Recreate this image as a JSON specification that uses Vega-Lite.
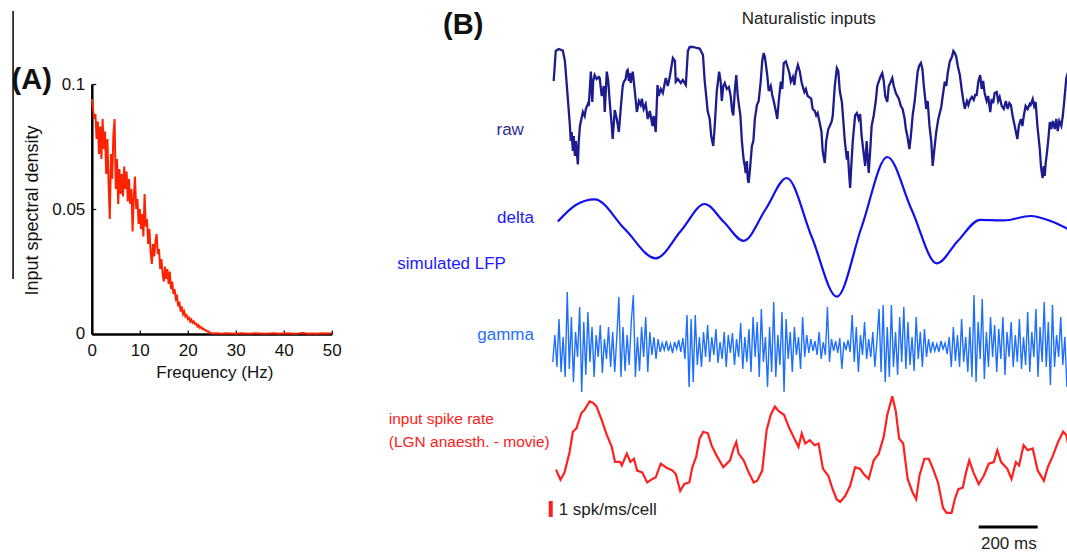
{
"$schema": "https://vega.github.io/schema/vega-lite/v6.json",
"padding": {"left": 10.8, "top": 9, "right": 0, "bottom": 0},
"background": "white",
"spacing": 221,
"bounds": "flush",
"config": {"view": {"stroke": null}, "font": "Liberation Sans", "text": {"font": "Liberation Sans"}, "axis": {"labelFont": "Liberation Sans", "titleFont": "Liberation Sans"}},
"datasets": {
"spectrum": [
{"f":0,"v":0.094},{"f":0.25,"v":0.09},{"f":0.5,"v":0.086},{"f":0.75,"v":0.088},{"f":1,"v":0.078},{"f":1.25,"v":0.085},{"f":1.5,"v":0.072},{"f":1.75,"v":0.083},{"f":2,"v":0.07},{"f":2.25,"v":0.086},{"f":2.5,"v":0.074},{"f":2.75,"v":0.081},{"f":3,"v":0.064},{"f":3.25,"v":0.078},{"f":3.5,"v":0.06},{"f":3.75,"v":0.046},{"f":4,"v":0.072},{"f":4.25,"v":0.062},{"f":4.5,"v":0.08},{"f":4.75,"v":0.086},{"f":5,"v":0.058},{"f":5.25,"v":0.07},{"f":5.5,"v":0.052},{"f":5.75,"v":0.066},{"f":6,"v":0.056},{"f":6.25,"v":0.064},{"f":6.5,"v":0.055},{"f":6.75,"v":0.067},{"f":7,"v":0.058},{"f":7.25,"v":0.065},{"f":7.5,"v":0.053},{"f":7.75,"v":0.062},{"f":8,"v":0.052},{"f":8.25,"v":0.058},{"f":8.5,"v":0.041},{"f":8.75,"v":0.055},{"f":9,"v":0.063},{"f":9.25,"v":0.05},{"f":9.5,"v":0.054},{"f":9.75,"v":0.044},{"f":10,"v":0.05},{"f":10.25,"v":0.042},{"f":10.5,"v":0.048},{"f":10.75,"v":0.039},{"f":11,"v":0.056},{"f":11.25,"v":0.043},{"f":11.5,"v":0.046},{"f":11.75,"v":0.036},{"f":12,"v":0.042},{"f":12.25,"v":0.033},{"f":12.5,"v":0.028},{"f":12.75,"v":0.036},{"f":13,"v":0.031},{"f":13.25,"v":0.037},{"f":13.5,"v":0.04},{"f":13.75,"v":0.032},{"f":14,"v":0.034},{"f":14.25,"v":0.026},{"f":14.5,"v":0.03},{"f":14.75,"v":0.024},{"f":15,"v":0.021},{"f":15.25,"v":0.027},{"f":15.5,"v":0.022},{"f":15.75,"v":0.026},{"f":16,"v":0.02},{"f":16.25,"v":0.025},{"f":16.5,"v":0.018},{"f":16.75,"v":0.021},{"f":17,"v":0.016},{"f":17.25,"v":0.018},{"f":17.5,"v":0.014},{"f":17.75,"v":0.015},{"f":18,"v":0.011},{"f":18.25,"v":0.013},{"f":18.5,"v":0.009},{"f":18.75,"v":0.011},{"f":19,"v":0.008},{"f":19.25,"v":0.009},{"f":19.5,"v":0.007},{"f":19.75,"v":0.0075},{"f":20,"v":0.006},{"f":20.25,"v":0.0065},{"f":20.5,"v":0.005},{"f":20.75,"v":0.0058},{"f":21,"v":0.0045},{"f":21.25,"v":0.005},{"f":21.5,"v":0.004},{"f":21.75,"v":0.0042},{"f":22,"v":0.003},{"f":22.25,"v":0.0035},{"f":22.5,"v":0.0025},{"f":22.75,"v":0.0028},{"f":23,"v":0.002},{"f":23.25,"v":0.0022},{"f":23.5,"v":0.0015},{"f":23.75,"v":0.0016},{"f":24,"v":0.001},{"f":24.25,"v":0.0011},{"f":24.5,"v":0.0006},{"f":24.75,"v":0.0004},{"f":25,"v":0.0002},
{"f":26,"v":0.0003},{"f":27,"v":0.0001},{"f":28,"v":0.0003},{"f":29,"v":0.0002},{"f":30,"v":0.0001},{"f":31,"v":0.0003},{"f":32,"v":0.0002},{"f":33,"v":0.0001},{"f":34,"v":0.0003},{"f":35,"v":0.0002},{"f":36,"v":0.0001},{"f":37,"v":0.0002},{"f":38,"v":0.0003},{"f":39,"v":0.0001},{"f":40,"v":0.0002},{"f":41,"v":0.0003},{"f":42,"v":0.0001},{"f":43,"v":0.0002},{"f":44,"v":0.0004},{"f":45,"v":0.0001},{"f":46,"v":0.0002},{"f":47,"v":0.0001},{"f":48,"v":0.0003},{"f":49,"v":0.0002},{"f":50,"v":0.0003}
],
"raw": [
{"t":3,"r":3.5},{"t":10,"r":6.5},{"t":20,"r":6.7},{"t":34,"r":6.54},{"t":41,"r":5.5},{"t":51,"r":1.74},{"t":58,"r":-1.0},{"t":61,"r":-2.5},{"t":64,"r":-1.6},{"t":68,"r":-3.5},{"t":71,"r":-2.0},{"t":75,"r":-4.0},{"t":78,"r":-2.5},{"t":85,"r":-4.85},{"t":88,"r":-2.5},{"t":92,"r":-1.0},{"t":97,"r":-0.3},{"t":102,"r":0.4},{"t":108,"r":0},{"t":112,"r":0.7},{"t":119,"r":1.2},{"t":122,"r":1.0},{"t":129,"r":4.44},{"t":134,"r":1.4},{"t":137,"r":3.5},{"t":142,"r":4.1},{"t":149,"r":3.7},{"t":156,"r":3.9},{"t":159,"r":3.8},{"t":166,"r":2.0},{"t":173,"r":3.0},{"t":176,"r":0.4},{"t":183,"r":4.44},{"t":188,"r":3.5},{"t":193,"r":1.4},{"t":200,"r":-1.0},{"t":203,"r":-2.3},{"t":207,"r":-0.7},{"t":210,"r":0.6},{"t":217,"r":-0.3},{"t":224,"r":-1.6},{"t":231,"r":1.0},{"t":237,"r":3.0},{"t":241,"r":3.43},{"t":247,"r":3.7},{"t":251,"r":4.5},{"t":254,"r":4.6},{"t":258,"r":3.5},{"t":261,"r":4.3},{"t":264,"r":3.3},{"t":271,"r":4.44},{"t":278,"r":2.5},{"t":285,"r":0.4},{"t":292,"r":1.5},{"t":298,"r":1.1},{"t":302,"r":1.74},{"t":308,"r":0.7},{"t":315,"r":1.2},{"t":322,"r":-0.3},{"t":329,"r":0.5},{"t":338,"r":-1.0},{"t":342,"r":0},{"t":349,"r":-1.6},{"t":355,"r":3.1},{"t":359,"r":2.0},{"t":366,"r":2.7},{"t":373,"r":2.3},{"t":383,"r":3.8},{"t":390,"r":3.0},{"t":397,"r":4.0},{"t":407,"r":5.8},{"t":414,"r":5.5},{"t":417,"r":3.43},{"t":424,"r":3.7},{"t":434,"r":3.3},{"t":441,"r":3.6},{"t":451,"r":3.1},{"t":458,"r":6.5},{"t":464,"r":6.9},{"t":475,"r":6.9},{"t":488,"r":6.8},{"t":498,"r":6.74},{"t":509,"r":6.13},{"t":515,"r":3.5},{"t":521,"r":1.74},{"t":525,"r":0.5},{"t":532,"r":-0.3},{"t":537,"r":-2.0},{"t":544,"r":-3.0},{"t":549,"r":-1.0},{"t":556,"r":2.5},{"t":564,"r":4.44},{"t":569,"r":3.5},{"t":573,"r":1.5},{"t":578,"r":3.0},{"t":583,"r":3.3},{"t":590,"r":2.7},{"t":597,"r":2.9},{"t":603,"r":2.0},{"t":608,"r":0.5},{"t":612,"r":0.05},{"t":617,"r":2.5},{"t":622,"r":4.1},{"t":627,"r":2.0},{"t":636,"r":0.05},{"t":641,"r":-2.5},{"t":647,"r":-4.35},{"t":651,"r":-5.0},{"t":654,"r":-5.7},{"t":658,"r":-4.5},{"t":661,"r":-6.3},{"t":664,"r":-6.7},{"t":668,"r":-5.5},{"t":675,"r":-3.0},{"t":680,"r":-2.5},{"t":685,"r":-0.3},{"t":692,"r":1.1},{"t":698,"r":1.5},{"t":705,"r":3.5},{"t":710,"r":5.5},{"t":715,"r":6.3},{"t":719,"r":5.9},{"t":727,"r":4.1},{"t":732,"r":2.5},{"t":739,"r":3.0},{"t":744,"r":2.1},{"t":749,"r":1.5},{"t":756,"r":0.5},{"t":761,"r":-0.3},{"t":766,"r":1.5},{"t":773,"r":3.43},{"t":778,"r":2.7},{"t":783,"r":5.3},{"t":790,"r":5.46},{"t":797,"r":4.8},{"t":802,"r":4.3},{"t":807,"r":3.43},{"t":814,"r":3.9},{"t":819,"r":3.1},{"t":824,"r":4.3},{"t":831,"r":5.1},{"t":837,"r":4.5},{"t":844,"r":3.3},{"t":853,"r":2.4},{"t":858,"r":2.7},{"t":864,"r":2.0},{"t":876,"r":1.74},{"t":881,"r":0.7},{"t":888,"r":0.5},{"t":893,"r":0.05},{"t":898,"r":0.3},{"t":905,"r":-0.7},{"t":911,"r":-1.6},{"t":915,"r":-3.5},{"t":922,"r":-4.7},{"t":927,"r":-2.5},{"t":934,"r":-1.3},{"t":939,"r":-1.0},{"t":945,"r":-0.6},{"t":949,"r":0},{"t":956,"r":3.0},{"t":963,"r":4.8},{"t":968,"r":4.5},{"t":973,"r":2.5},{"t":980,"r":1.4},{"t":985,"r":-0.5},{"t":990,"r":-2.5},{"t":997,"r":-4.35},{"t":1000,"r":-3.5},{"t":1004,"r":-5.5},{"t":1008,"r":-7.2},{"t":1012,"r":-5.0},{"t":1017,"r":-2.5},{"t":1025,"r":0.05},{"t":1031,"r":0.3},{"t":1037,"r":-0.3},{"t":1042,"r":0.2},{"t":1047,"r":-2.0},{"t":1053,"r":-3.5},{"t":1059,"r":-5.0},{"t":1064,"r":-2.5},{"t":1071,"r":-5.7},{"t":1076,"r":-3.5},{"t":1081,"r":-1.0},{"t":1088,"r":0.05},{"t":1095,"r":1.5},{"t":1100,"r":3.0},{"t":1105,"r":3.43},{"t":1112,"r":4.0},{"t":1117,"r":4.3},{"t":1122,"r":3.5},{"t":1127,"r":2.0},{"t":1134,"r":1.4},{"t":1139,"r":3.0},{"t":1144,"r":3.3},{"t":1151,"r":3.8},{"t":1156,"r":3.0},{"t":1163,"r":2.3},{"t":1173,"r":1.74},{"t":1180,"r":1.0},{"t":1186,"r":0.7},{"t":1193,"r":-0.3},{"t":1197,"r":-1.3},{"t":1202,"r":-2.0},{"t":1209,"r":-3.3},{"t":1214,"r":-2.0},{"t":1220,"r":0.05},{"t":1227,"r":1.5},{"t":1232,"r":3.0},{"t":1237,"r":4.44},{"t":1242,"r":5.0},{"t":1248,"r":5.3},{"t":1253,"r":4.7},{"t":1258,"r":3.0},{"t":1266,"r":0.72},{"t":1271,"r":1.5},{"t":1277,"r":-0.97},{"t":1283,"r":-2.5},{"t":1288,"r":-5.0},{"t":1293,"r":-3.5},{"t":1300,"r":-1.6},{"t":1307,"r":-0.3},{"t":1312,"r":0.3},{"t":1317,"r":0.9},{"t":1322,"r":2.0},{"t":1329,"r":3.43},{"t":1334,"r":3.0},{"t":1339,"r":4.3},{"t":1346,"r":5.46},{"t":1353,"r":5.9},{"t":1358,"r":6.5},{"t":1363,"r":6.3},{"t":1368,"r":5.9},{"t":1373,"r":5.0},{"t":1380,"r":4.1},{"t":1387,"r":2.5},{"t":1392,"r":1.5},{"t":1397,"r":0.72},{"t":1404,"r":1.5},{"t":1409,"r":1.1},{"t":1414,"r":1.6},{"t":1421,"r":1.9},{"t":1427,"r":1.6},{"t":1432,"r":2.1},{"t":1437,"r":2.1},{"t":1443,"r":3.5},{"t":1449,"r":4.1},{"t":1454,"r":2.7},{"t":1459,"r":3.5},{"t":1464,"r":2.3},{"t":1471,"r":1.5},{"t":1476,"r":2.0},{"t":1483,"r":0.4},{"t":1488,"r":1.7},{"t":1493,"r":1.3},{"t":1498,"r":2.3},{"t":1505,"r":2.4},{"t":1510,"r":1.5},{"t":1515,"r":1.9},{"t":1522,"r":1.0},{"t":1529,"r":0.72},{"t":1536,"r":1.5},{"t":1542,"r":0.7},{"t":1548,"r":1.3},{"t":1553,"r":1.1},{"t":1559,"r":0},{"t":1566,"r":-1.0},{"t":1575,"r":-2.3},{"t":1580,"r":-1.0},{"t":1587,"r":-0.3},{"t":1592,"r":-1.0},{"t":1597,"r":0.05},{"t":1603,"r":1.0},{"t":1610,"r":0.7},{"t":1617,"r":1.2},{"t":1620,"r":1.1},{"t":1627,"r":1.7},{"t":1632,"r":1.0},{"t":1637,"r":1.4},{"t":1643,"r":-1.0},{"t":1651,"r":-3.3},{"t":1655,"r":-5.0},{"t":1658,"r":-5.7},{"t":1661,"r":-6.2},{"t":1665,"r":-5.0},{"t":1668,"r":-6.0},{"t":1671,"r":-4.7},{"t":1676,"r":-3.5},{"t":1681,"r":-2.0},{"t":1685,"r":-0.6},{"t":1690,"r":-1.3},{"t":1695,"r":-0.5},{"t":1702,"r":-1.3},{"t":1707,"r":-0.3},{"t":1712,"r":-1.5},{"t":1717,"r":-0.5},{"t":1724,"r":-1.0},{"t":1729,"r":0},{"t":1734,"r":1.5},{"t":1741,"r":3.8},{"t":1746,"r":4.3},{"t":1753,"r":3.43}
],
"delta": [
{"t":17,"d":-0.03},{"t":78,"d":0.8},{"t":142,"d":1.08},{"t":244,"d":-0.4},{"t":349,"d":-1.87},{"t":434,"d":-0.5},{"t":515,"d":0.85},{"t":580,"d":-0.05},{"t":647,"d":-0.99},{"t":722,"d":0.6},{"t":793,"d":2.15},{"t":878,"d":-0.8},{"t":963,"d":-3.78},{"t":1047,"d":-0.3},{"t":1134,"d":3.2},{"t":1217,"d":0.55},{"t":1302,"d":-2.12},{"t":1373,"d":-1.0},{"t":1449,"d":0.06},{"t":1529,"d":0.03},{"t":1620,"d":0.25},{"t":1688,"d":0.0},{"t":1746,"d":-0.4}
],
"gamma": [
{"t":0,"g":-1.5},{"t":7,"g":1.2},{"t":14,"g":-2.0},{"t":21,"g":2.8},{"t":28,"g":-2.5},{"t":35,"g":1.0},{"t":42,"g":-3.0},{"t":49,"g":5.5},{"t":56,"g":-2.2},{"t":63,"g":3.0},{"t":70,"g":-3.5},{"t":77,"g":1.5},{"t":84,"g":-1.0},{"t":91,"g":4.0},{"t":98,"g":-4.5},{"t":105,"g":2.5},{"t":112,"g":-2.8},{"t":119,"g":3.5},{"t":126,"g":-1.5},{"t":133,"g":2.0},{"t":140,"g":-3.0},{"t":147,"g":1.2},{"t":154,"g":-1.0},{"t":161,"g":2.2},{"t":168,"g":-2.6},{"t":175,"g":0.8},{"t":182,"g":-1.2},{"t":189,"g":2.0},{"t":196,"g":-2.0},{"t":203,"g":1.5},{"t":210,"g":-2.5},{"t":217,"g":1.0},{"t":224,"g":5.0},{"t":231,"g":-3.0},{"t":238,"g":2.0},{"t":245,"g":-2.4},{"t":252,"g":1.2},{"t":259,"g":-1.8},{"t":266,"g":2.5},{"t":273,"g":5.2},{"t":280,"g":-3.0},{"t":287,"g":1.0},{"t":294,"g":-2.4},{"t":301,"g":2.0},{"t":308,"g":-1.0},{"t":315,"g":3.0},{"t":322,"g":-2.5},{"t":329,"g":1.5},{"t":336,"g":-0.8},{"t":343,"g":1.0},{"t":350,"g":-1.2},{"t":357,"g":0.8},{"t":364,"g":-0.5},{"t":371,"g":0.4},{"t":378,"g":-0.3},{"t":385,"g":0.6},{"t":392,"g":-0.4},{"t":399,"g":0.3},{"t":406,"g":-0.6},{"t":413,"g":0.5},{"t":420,"g":-0.2},{"t":427,"g":0.7},{"t":434,"g":-0.5},{"t":441,"g":0.9},{"t":448,"g":-1.2},{"t":455,"g":3.2},{"t":462,"g":-4.0},{"t":469,"g":2.8},{"t":476,"g":-3.5},{"t":483,"g":3.2},{"t":490,"g":-1.8},{"t":497,"g":1.0},{"t":504,"g":-2.0},{"t":511,"g":1.5},{"t":518,"g":-1.0},{"t":525,"g":2.2},{"t":532,"g":-1.5},{"t":539,"g":1.0},{"t":546,"g":-0.8},{"t":553,"g":1.8},{"t":560,"g":-1.6},{"t":567,"g":0.5},{"t":574,"g":-1.2},{"t":581,"g":1.5},{"t":588,"g":-2.0},{"t":595,"g":1.2},{"t":602,"g":-0.6},{"t":609,"g":1.4},{"t":616,"g":-1.8},{"t":623,"g":0.8},{"t":630,"g":-1.0},{"t":637,"g":2.4},{"t":644,"g":-2.2},{"t":651,"g":1.0},{"t":658,"g":-1.5},{"t":665,"g":1.8},{"t":672,"g":-2.5},{"t":679,"g":3.0},{"t":686,"g":-1.0},{"t":693,"g":2.5},{"t":700,"g":-3.0},{"t":707,"g":3.8},{"t":714,"g":-1.5},{"t":721,"g":1.0},{"t":728,"g":-4.0},{"t":735,"g":2.0},{"t":742,"g":-2.5},{"t":749,"g":4.5},{"t":756,"g":-3.0},{"t":763,"g":1.2},{"t":770,"g":-1.8},{"t":777,"g":3.5},{"t":784,"g":-4.5},{"t":791,"g":2.8},{"t":798,"g":-1.2},{"t":805,"g":1.5},{"t":812,"g":-2.5},{"t":819,"g":2.0},{"t":826,"g":-0.8},{"t":833,"g":1.0},{"t":840,"g":-2.2},{"t":847,"g":3.0},{"t":854,"g":-1.0},{"t":861,"g":1.2},{"t":868,"g":-0.6},{"t":875,"g":0.8},{"t":882,"g":-0.4},{"t":889,"g":0.6},{"t":896,"g":-0.8},{"t":903,"g":1.5},{"t":910,"g":-1.2},{"t":917,"g":0.5},{"t":924,"g":-0.8},{"t":931,"g":4.0},{"t":938,"g":-1.5},{"t":945,"g":0.8},{"t":952,"g":-0.4},{"t":959,"g":0.6},{"t":966,"g":-0.6},{"t":973,"g":0.9},{"t":980,"g":-2.2},{"t":987,"g":0.5},{"t":994,"g":-0.3},{"t":1001,"g":0.7},{"t":1008,"g":-0.5},{"t":1015,"g":3.2},{"t":1022,"g":-1.5},{"t":1029,"g":2.0},{"t":1036,"g":-2.5},{"t":1043,"g":1.2},{"t":1050,"g":-0.8},{"t":1057,"g":2.5},{"t":1064,"g":-1.2},{"t":1071,"g":0.8},{"t":1078,"g":-1.0},{"t":1085,"g":1.5},{"t":1092,"g":-2.0},{"t":1099,"g":0.6},{"t":1106,"g":3.8},{"t":1113,"g":-2.5},{"t":1120,"g":4.2},{"t":1127,"g":-3.5},{"t":1134,"g":2.0},{"t":1141,"g":-3.0},{"t":1148,"g":4.2},{"t":1155,"g":-2.0},{"t":1162,"g":1.5},{"t":1169,"g":-2.8},{"t":1176,"g":3.0},{"t":1183,"g":-1.5},{"t":1190,"g":4.0},{"t":1197,"g":-2.2},{"t":1204,"g":2.5},{"t":1211,"g":-1.8},{"t":1218,"g":1.0},{"t":1225,"g":-2.4},{"t":1232,"g":3.0},{"t":1239,"g":-1.2},{"t":1246,"g":1.5},{"t":1253,"g":-2.0},{"t":1260,"g":1.8},{"t":1267,"g":-1.0},{"t":1274,"g":0.8},{"t":1281,"g":-0.6},{"t":1288,"g":0.5},{"t":1295,"g":-0.4},{"t":1302,"g":0.3},{"t":1309,"g":-0.5},{"t":1316,"g":0.6},{"t":1323,"g":-0.2},{"t":1330,"g":0.4},{"t":1337,"g":-0.7},{"t":1344,"g":1.0},{"t":1351,"g":-2.0},{"t":1358,"g":2.0},{"t":1365,"g":-1.4},{"t":1372,"g":1.2},{"t":1379,"g":-2.0},{"t":1386,"g":2.8},{"t":1393,"g":-1.5},{"t":1400,"g":1.0},{"t":1407,"g":-2.5},{"t":1414,"g":2.0},{"t":1421,"g":-3.0},{"t":1428,"g":5.2},{"t":1435,"g":-3.5},{"t":1442,"g":2.5},{"t":1449,"g":-1.2},{"t":1456,"g":4.8},{"t":1463,"g":-3.2},{"t":1470,"g":1.5},{"t":1477,"g":-2.0},{"t":1484,"g":3.0},{"t":1491,"g":-1.0},{"t":1498,"g":2.2},{"t":1505,"g":-2.5},{"t":1512,"g":1.8},{"t":1519,"g":-1.2},{"t":1526,"g":3.0},{"t":1533,"g":-2.8},{"t":1540,"g":1.5},{"t":1547,"g":-1.0},{"t":1554,"g":2.5},{"t":1561,"g":-2.0},{"t":1568,"g":1.2},{"t":1575,"g":-1.5},{"t":1582,"g":2.8},{"t":1589,"g":-2.2},{"t":1596,"g":1.0},{"t":1603,"g":-1.8},{"t":1610,"g":3.5},{"t":1617,"g":-2.5},{"t":1624,"g":1.5},{"t":1631,"g":-1.0},{"t":1638,"g":3.8},{"t":1645,"g":-3.0},{"t":1652,"g":2.0},{"t":1659,"g":-1.5},{"t":1666,"g":4.5},{"t":1673,"g":-2.0},{"t":1680,"g":2.5},{"t":1687,"g":-3.8},{"t":1694,"g":4.2},{"t":1701,"g":-2.0},{"t":1708,"g":1.2},{"t":1715,"g":-1.0},{"t":1722,"g":3.0},{"t":1729,"g":-1.8},{"t":1736,"g":1.0},{"t":1743,"g":-4.0},{"t":1750,"g":0.5}
],
"spike": [
{"t":11,"rate":3.21},{"t":26,"rate":2.58},{"t":40,"rate":3.04},{"t":57,"rate":4.31},{"t":68,"rate":5.58},{"t":80,"rate":5.79},{"t":97,"rate":6.75},{"t":108,"rate":6.96},{"t":125,"rate":7.48},{"t":137,"rate":7.38},{"t":148,"rate":7.16},{"t":166,"rate":6.31},{"t":183,"rate":5.38},{"t":200,"rate":4.63},{"t":211,"rate":3.69},{"t":228,"rate":3.69},{"t":234,"rate":3.47},{"t":251,"rate":4.21},{"t":263,"rate":3.69},{"t":275,"rate":3.89},{"t":286,"rate":3.15},{"t":303,"rate":3.04},{"t":320,"rate":2.41},{"t":338,"rate":2.63},{"t":349,"rate":2.73},{"t":366,"rate":3.58},{"t":383,"rate":3.36},{"t":406,"rate":3.15},{"t":417,"rate":2.94},{"t":432,"rate":1.88},{"t":446,"rate":2.31},{"t":463,"rate":2.41},{"t":473,"rate":3.36},{"t":486,"rate":4.0},{"t":498,"rate":5.16},{"t":510,"rate":5.58},{"t":526,"rate":5.48},{"t":538,"rate":4.74},{"t":555,"rate":4.1},{"t":578,"rate":3.36},{"t":601,"rate":3.79},{"t":613,"rate":4.53},{"t":622,"rate":4.94},{"t":630,"rate":4.21},{"t":647,"rate":3.79},{"t":664,"rate":3.04},{"t":681,"rate":2.41},{"t":693,"rate":2.52},{"t":710,"rate":3.15},{"t":725,"rate":5.69},{"t":739,"rate":6.64},{"t":753,"rate":7.16},{"t":767,"rate":6.85},{"t":784,"rate":6.64},{"t":802,"rate":5.79},{"t":819,"rate":5.16},{"t":833,"rate":4.63},{"t":844,"rate":5.48},{"t":856,"rate":4.84},{"t":871,"rate":5.05},{"t":888,"rate":4.74},{"t":901,"rate":4.84},{"t":916,"rate":3.26},{"t":934,"rate":2.83},{"t":947,"rate":2.09},{"t":962,"rate":1.36},{"t":974,"rate":1.19},{"t":991,"rate":1.56},{"t":1008,"rate":2.2},{"t":1025,"rate":3.36},{"t":1042,"rate":3.26},{"t":1054,"rate":2.94},{"t":1071,"rate":2.63},{"t":1088,"rate":3.79},{"t":1105,"rate":4.21},{"t":1122,"rate":5.26},{"t":1134,"rate":6.64},{"t":1151,"rate":7.8},{"t":1163,"rate":6.85},{"t":1174,"rate":5.16},{"t":1188,"rate":4.84},{"t":1203,"rate":2.63},{"t":1220,"rate":1.78},{"t":1232,"rate":1.36},{"t":1243,"rate":2.83},{"t":1260,"rate":3.89},{"t":1275,"rate":3.89},{"t":1289,"rate":3.26},{"t":1306,"rate":2.41},{"t":1323,"rate":0.83},{"t":1335,"rate":0.51},{"t":1352,"rate":0.51},{"t":1363,"rate":1.36},{"t":1375,"rate":1.99},{"t":1390,"rate":2.09},{"t":1401,"rate":3.04},{"t":1412,"rate":3.79},{"t":1426,"rate":3.04},{"t":1444,"rate":2.31},{"t":1461,"rate":2.83},{"t":1478,"rate":3.58},{"t":1495,"rate":3.68},{"t":1507,"rate":4.42},{"t":1520,"rate":3.68},{"t":1541,"rate":3.26},{"t":1555,"rate":2.63},{"t":1570,"rate":3.68},{"t":1581,"rate":3.47},{"t":1596,"rate":4.74},{"t":1610,"rate":4.42},{"t":1627,"rate":4.53},{"t":1644,"rate":3.15},{"t":1665,"rate":2.52},{"t":1678,"rate":3.36},{"t":1696,"rate":4.1},{"t":1713,"rate":4.94},{"t":1730,"rate":5.58},{"t":1741,"rate":5.38},{"t":1756,"rate":3.89}
]
},
"hconcat": [
{
"width": 240, "height": 250,
"layer": [
{"data": {"name": "spectrum"}, "mark": {"type": "line", "color": "#ff2200", "strokeWidth": 2, "clip": false},
 "encoding": {
  "x": {"field": "f", "type": "quantitative", "scale": {"domain": [0, 50], "nice": false, "zero": false},
        "axis": {"values": [0,10,20,30,40,50], "title": "Frequency (Hz)", "grid": false, "domainColor": "#000", "domainWidth": 2.5, "tickColor": "#000", "tickSize": -4, "tickWidth": 1.2, "labelFontSize": 17, "labelColor": "#111", "labelPadding": 13, "labelFlush": false, "labelOverlap": false, "titleFontSize": 17, "titleFontWeight": "normal", "titleColor": "#111", "titleX": 122.5, "titleY": 43.5, "titleBaseline": "alphabetic"}},
  "y": {"field": "v", "type": "quantitative", "scale": {"domain": [0, 0.1], "nice": false, "zero": false},
        "axis": {"values": [0, 0.05, 0.1], "format": "~g", "title": "Input spectral density", "grid": false, "domainColor": "#000", "domainWidth": 2.5, "tickColor": "#000", "tickSize": -4, "tickWidth": 1.2, "labelFontSize": 17, "labelColor": "#111", "labelPadding": 11, "labelFlush": false, "labelOverlap": false, "titleFontSize": 18, "titleFontWeight": "normal", "titleColor": "#111", "titleX": -54.3, "titleY": 126, "titleAngle": -90, "titleBaseline": "alphabetic", "titleAlign": "center"}}
 }},
{"data": {"values": [{"f": -16.4, "v": 0.1292, "v2": 0.022}]}, "mark": {"type": "rule", "color": "#000", "strokeWidth": 1.5},
 "encoding": {"x": {"field": "f", "type": "quantitative"}, "y": {"field": "v", "type": "quantitative"}, "y2": {"field": "v2"}}},
{"data": {"values": [{"f": -16.71, "v": 0.0979, "label": "(A)"}]}, "mark": {"type": "text", "align": "left", "baseline": "alphabetic", "fontSize": 29, "fontWeight": "bold", "color": "#111"},
 "encoding": {"x": {"field": "f", "type": "quantitative"}, "y": {"field": "v", "type": "quantitative"}, "text": {"field": "label"}}}
]
},
{
"width": 515, "height": 470,
"layer": [
{"layer": [
 {"data": {"name": "raw"}, "mark": {"type": "line", "color": "#1c1c8f", "strokeWidth": 2.3, "clip": false},
  "encoding": {"x": {"field": "t", "type": "quantitative", "scale": {"domain": [0, 1746], "nice": false, "zero": false}, "axis": null},
               "y": {"field": "r", "type": "quantitative", "scale": {"domain": [-43.8, 3.2], "nice": false, "zero": false}, "axis": null}}},
 {"data": {"values": [{"t": -98, "r": -1.9, "label": "raw"}]}, "mark": {"type": "text", "align": "right", "baseline": "alphabetic", "fontSize": 17, "color": "#2e2e8f"},
  "encoding": {"x": {"field": "t", "type": "quantitative", "scale": {"domain": [0, 1746], "nice": false, "zero": false}, "axis": null},
               "y": {"field": "r", "type": "quantitative", "scale": {"domain": [-43.8, 3.2], "nice": false, "zero": false}, "axis": null}, "text": {"field": "label"}}},
 {"data": {"values": [{"t": 868, "r": 9.25, "label": "Naturalistic inputs"}]}, "mark": {"type": "text", "align": "center", "baseline": "alphabetic", "fontSize": 17, "color": "#222"},
  "encoding": {"x": {"field": "t", "type": "quantitative", "scale": {"domain": [0, 1746], "nice": false, "zero": false}, "axis": null},
               "y": {"field": "r", "type": "quantitative", "scale": {"domain": [-43.8, 3.2], "nice": false, "zero": false}, "axis": null}, "text": {"field": "label"}}},
 {"data": {"values": [{"t": -372, "r": 8.17, "label": "(B)"}]}, "mark": {"type": "text", "align": "left", "baseline": "alphabetic", "fontSize": 29, "fontWeight": "bold", "color": "#111"},
  "encoding": {"x": {"field": "t", "type": "quantitative", "scale": {"domain": [0, 1746], "nice": false, "zero": false}, "axis": null},
               "y": {"field": "r", "type": "quantitative", "scale": {"domain": [-43.8, 3.2], "nice": false, "zero": false}, "axis": null}, "text": {"field": "label"}}}
]},
{"layer": [
 {"data": {"name": "delta"}, "mark": {"type": "line", "color": "#1010f0", "strokeWidth": 2.2, "interpolate": "monotone", "clip": false},
  "encoding": {"x": {"field": "t", "type": "quantitative", "scale": {"domain": [0, 1746], "nice": false, "zero": false}, "axis": null},
               "y": {"field": "d", "type": "quantitative", "scale": {"domain": [-16.65, 6.85], "nice": false, "zero": false}, "axis": null}}},
 {"data": {"values": [{"t": -64, "d": -0.085, "label": "delta"}, {"t": -159, "d": -2.4, "label": "simulated LFP"}]}, "mark": {"type": "text", "align": "right", "baseline": "alphabetic", "fontSize": 17, "color": "#1a1aff"},
  "encoding": {"x": {"field": "t", "type": "quantitative", "scale": {"domain": [0, 1746], "nice": false, "zero": false}, "axis": null},
               "y": {"field": "d", "type": "quantitative", "scale": {"domain": [-16.65, 6.85], "nice": false, "zero": false}, "axis": null}, "text": {"field": "label"}}}
]},
{"layer": [
 {"data": {"name": "gamma"}, "mark": {"type": "line", "color": "#1f6fff", "strokeWidth": 1.4, "clip": false},
  "encoding": {"x": {"field": "t", "type": "quantitative", "scale": {"domain": [0, 1746], "nice": false, "zero": false}, "axis": null},
               "y": {"field": "g", "type": "quantitative", "scale": {"domain": [-20.7, 26.3], "nice": false, "zero": false}, "axis": null}}},
 {"data": {"values": [{"t": -64, "g": 0.67, "label": "gamma"}]}, "mark": {"type": "text", "align": "right", "baseline": "alphabetic", "fontSize": 17, "color": "#1f6fff"},
  "encoding": {"x": {"field": "t", "type": "quantitative", "scale": {"domain": [0, 1746], "nice": false, "zero": false}, "axis": null},
               "y": {"field": "g", "type": "quantitative", "scale": {"domain": [-20.7, 26.3], "nice": false, "zero": false}, "axis": null}, "text": {"field": "label"}}}
]},
{"layer": [
 {"data": {"name": "spike"}, "mark": {"type": "line", "color": "#ff2020", "strokeWidth": 2.2, "clip": false},
  "encoding": {"x": {"field": "t", "type": "quantitative", "scale": {"domain": [0, 1746], "nice": false, "zero": false}, "axis": null},
               "y": {"field": "rate", "type": "quantitative", "scale": {"domain": [-2.0625, 27.3125], "nice": false, "zero": false}, "axis": null}}},
 {"data": {"values": [{"t": -556, "rate": 6.08, "label": "input spike rate"}, {"t": -556, "rate": 4.64, "label": "(LGN anaesth. - movie)"}]}, "mark": {"type": "text", "align": "left", "baseline": "alphabetic", "fontSize": 15.5, "color": "#ff2020"},
  "encoding": {"x": {"field": "t", "type": "quantitative", "scale": {"domain": [0, 1746], "nice": false, "zero": false}, "axis": null},
               "y": {"field": "rate", "type": "quantitative", "scale": {"domain": [-2.0625, 27.3125], "nice": false, "zero": false}, "axis": null}, "text": {"field": "label"}}},
 {"data": {"values": [{"t": -7, "rate": 0.25, "rate2": 1.25}]}, "mark": {"type": "rule", "color": "#ff2020", "strokeWidth": 4},
  "encoding": {"x": {"field": "t", "type": "quantitative", "scale": {"domain": [0, 1746], "nice": false, "zero": false}, "axis": null},
               "y": {"field": "rate", "type": "quantitative", "scale": {"domain": [-2.0625, 27.3125], "nice": false, "zero": false}, "axis": null}, "y2": {"field": "rate2"}}},
 {"data": {"values": [{"t": 1444, "t2": 1644, "rate": -0.375}]}, "mark": {"type": "rule", "color": "#000", "strokeWidth": 3},
  "encoding": {"x": {"field": "t", "type": "quantitative", "scale": {"domain": [0, 1746], "nice": false, "zero": false}, "axis": null}, "x2": {"field": "t2"},
               "y": {"field": "rate", "type": "quantitative", "scale": {"domain": [-2.0625, 27.3125], "nice": false, "zero": false}, "axis": null}}},
 {"data": {"values": [{"t": 20, "rate": 0.375, "label": "1 spk/ms/cell"}]}, "mark": {"type": "text", "align": "left", "baseline": "alphabetic", "fontSize": 17, "color": "#222"},
  "encoding": {"x": {"field": "t", "type": "quantitative", "scale": {"domain": [0, 1746], "nice": false, "zero": false}, "axis": null},
               "y": {"field": "rate", "type": "quantitative", "scale": {"domain": [-2.0625, 27.3125], "nice": false, "zero": false}, "axis": null}, "text": {"field": "label"}}},
 {"data": {"values": [{"t": 1546, "rate": -1.78, "label": "200 ms"}]}, "mark": {"type": "text", "align": "center", "baseline": "alphabetic", "fontSize": 17, "color": "#222"},
  "encoding": {"x": {"field": "t", "type": "quantitative", "scale": {"domain": [0, 1746], "nice": false, "zero": false}, "axis": null},
               "y": {"field": "rate", "type": "quantitative", "scale": {"domain": [-2.0625, 27.3125], "nice": false, "zero": false}, "axis": null}, "text": {"field": "label"}}}
]}
],
"resolve": {"scale": {"y": "independent"}}
}
]
}
